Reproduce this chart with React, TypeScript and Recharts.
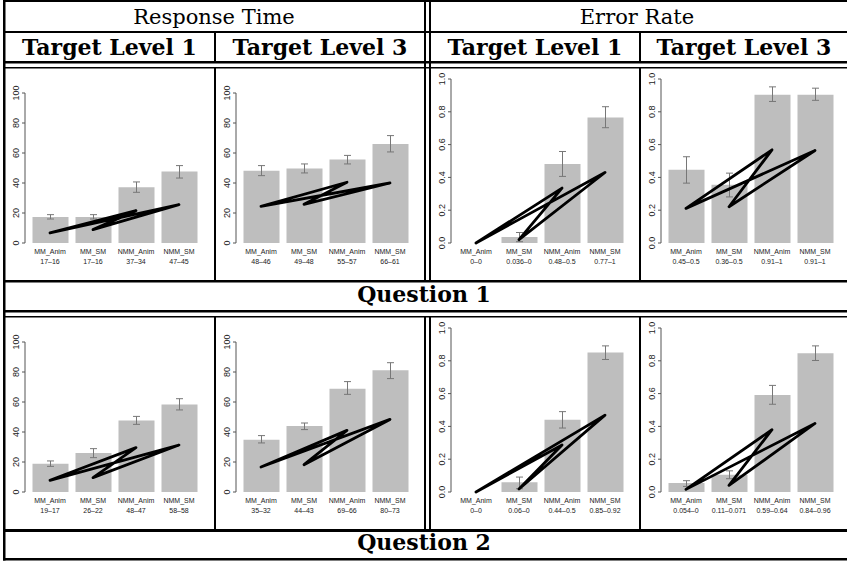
import React from 'react'
import { ComposedChart, Bar, ErrorBar, Scatter, XAxis, YAxis } from 'recharts'

const categories = ['MM_Anim', 'MM_SM', 'NMM_Anim', 'NMM_SM']
// the black line visits the bars in this order and closes on the first one
const linePath = ['MM_Anim', 'NMM_Anim', 'MM_SM', 'NMM_SM', 'MM_Anim']

const rtTicks = [0, 20, 40, 60, 80, 100]
const erTicks = [0, 0.2, 0.4, 0.6, 0.8, 1]

// Question 1 - response time, target level 1
const q1RtL1Mean = [17.3, 17.3, 37.1, 47.6]
const q1RtL1Low = [16, 16, 33.8, 43.3]
const q1RtL1High = [18.9, 18.9, 40.7, 51.6]
const q1RtL1Line = [6.7, 8.9, 21.6, 25.6]
const q1RtL1Labels = ['17–16', '17–16', '37–34', '47–45']

// Question 1 - response time, target level 3
const q1RtL3Mean = [48.2, 49.6, 55.6, 66]
const q1RtL3Low = [44.9, 46.7, 52.7, 60.7]
const q1RtL3High = [51.6, 52.7, 58.4, 71.6]
const q1RtL3Line = [24.4, 25.8, 40.5, 40]
const q1RtL3Labels = ['48–46', '49–48', '55–57', '66–61']

// Question 1 - error rate, target level 1
const q1ErL1Mean = [0, 0.036, 0.482, 0.765]
const q1ErL1Low = [0, 0.008, 0.406, 0.703]
const q1ErL1High = [0, 0.064, 0.558, 0.831]
const q1ErL1Line = [0, 0.02, 0.335, 0.43]
const q1ErL1Labels = ['0–0', '0.036–0', '0.48–0.5', '0.77–1']

// Question 1 - error rate, target level 3
const q1ErL3Mean = [0.446, 0.355, 0.904, 0.904]
const q1ErL3Low = [0.365, 0.281, 0.863, 0.87]
const q1ErL3High = [0.526, 0.426, 0.952, 0.944]
const q1ErL3Line = [0.211, 0.221, 0.568, 0.564]
const q1ErL3Labels = ['0.45–0.5', '0.36–0.5', '0.91–1', '0.91–1']

// Question 2 - response time, target level 1
const q2RtL1Mean = [18.9, 26, 47.6, 58.4]
const q2RtL1Low = [17.1, 22.9, 45.1, 54.7]
const q2RtL1High = [20.7, 28.9, 50.4, 62.2]
const q2RtL1Line = [7.8, 9.6, 29.6, 31.3]
const q2RtL1Labels = ['19–17', '26–22', '48–47', '58–58']

// Question 2 - response time, target level 3
const q2RtL3Mean = [34.9, 44, 68.9, 81.1]
const q2RtL3Low = [32.7, 41.6, 65.1, 75.6]
const q2RtL3High = [37.6, 46, 73.6, 86.2]
const q2RtL3Line = [16.7, 18.2, 41.1, 48.4]
const q2RtL3Labels = ['35–32', '44–43', '69–66', '80–73']

// Question 2 - error rate, target level 1
const q2ErL1Mean = [0, 0.059, 0.44, 0.85]
const q2ErL1Low = [0, 0.02, 0.39, 0.808]
const q2ErL1High = [0, 0.091, 0.49, 0.891]
const q2ErL1Line = [0, 0.018, 0.287, 0.469]
const q2ErL1Labels = ['0–0', '0.06–0', '0.44–0.5', '0.85–0.92']

// Question 2 - error rate, target level 3
const q2ErL3Mean = [0.055, 0.105, 0.592, 0.846]
const q2ErL3Low = [0.034, 0.081, 0.535, 0.802]
const q2ErL3High = [0.069, 0.129, 0.65, 0.891]
const q2ErL3Line = [0.016, 0.04, 0.38, 0.418]
const q2ErL3Labels = ['0.054–0', '0.11–0.071', '0.59–0.64', '0.84–0.96']

const colLeft = [5, 216, 431, 641]
const rowTop = [69, 318]

const panels = [
  { col: 0, row: 0, er: false, mean: q1RtL1Mean, low: q1RtL1Low, high: q1RtL1High, line: q1RtL1Line, labels: q1RtL1Labels },
  { col: 1, row: 0, er: false, mean: q1RtL3Mean, low: q1RtL3Low, high: q1RtL3High, line: q1RtL3Line, labels: q1RtL3Labels },
  { col: 2, row: 0, er: true, mean: q1ErL1Mean, low: q1ErL1Low, high: q1ErL1High, line: q1ErL1Line, labels: q1ErL1Labels },
  { col: 3, row: 0, er: true, mean: q1ErL3Mean, low: q1ErL3Low, high: q1ErL3High, line: q1ErL3Line, labels: q1ErL3Labels },
  { col: 0, row: 1, er: false, mean: q2RtL1Mean, low: q2RtL1Low, high: q2RtL1High, line: q2RtL1Line, labels: q2RtL1Labels },
  { col: 1, row: 1, er: false, mean: q2RtL3Mean, low: q2RtL3Low, high: q2RtL3High, line: q2RtL3Line, labels: q2RtL3Labels },
  { col: 2, row: 1, er: true, mean: q2ErL1Mean, low: q2ErL1Low, high: q2ErL1High, line: q2ErL1Line, labels: q2ErL1Labels },
  { col: 3, row: 1, er: true, mean: q2ErL3Mean, low: q2ErL3Low, high: q2ErL3High, line: q2ErL3Line, labels: q2ErL3Labels },
]

const sans = '"Liberation Sans", Arial, sans-serif'
const serif = '"DejaVu Serif", serif'

function XTick(props: any) {
  const { x, y, payload, labels } = props
  const i = categories.indexOf(payload.value)
  return (
    <g>
      <text x={x} y={y + 10.5} textAnchor="middle" fontSize={7} fontFamily={sans} fill="#222">
        {payload.value}
      </text>
      <text x={x} y={y + 20.5} textAnchor="middle" fontSize={7} fontFamily={sans} fill="#222">
        {labels[i]}
      </text>
    </g>
  )
}

function YTick(props: any) {
  const { x, y, payload, er } = props
  const txt = er ? Number(payload.value).toFixed(1) : String(payload.value)
  return (
    <text
      transform={`translate(${x - 1.5},${y}) rotate(-90)`}
      textAnchor="middle"
      fontSize={9}
      fontFamily={sans}
      fill="#222"
    >
      {txt}
    </text>
  )
}

function Panel({ p }: { p: any }) {
  const rows = categories.map((name, i) => ({
    name,
    value: p.mean[i],
    err: p.high[i] > p.low[i] ? [p.mean[i] - p.low[i], p.high[i] - p.mean[i]] : null,
  }))
  const pts = linePath.map((c) => {
    const i = categories.indexOf(c)
    return { x: i, y: p.line[i] }
  })
  const ticks = p.er ? erTicks : rtTicks
  return (
    <div style={{ position: 'absolute', left: colLeft[p.col], top: rowTop[p.row] }}>
      <ComposedChart
        width={209}
        height={211}
        data={rows}
        margin={{ top: p.er ? 10 : 24, right: 10, bottom: 0, left: 0 }}
      >
        <XAxis
          xAxisId="cat"
          dataKey="name"
          type="category"
          padding={{ left: 3.5, right: 3.5 }}
          axisLine={false}
          tickLine={false}
          tickSize={0}
          tickMargin={0}
          height={37}
          interval={0}
          tick={(t: any) => <XTick {...t} labels={p.labels} />}
        />
        <XAxis
          xAxisId="num"
          dataKey="x"
          type="number"
          domain={[-0.5, 3.5]}
          padding={{ left: 3.5, right: 3.5 }}
          allowDataOverflow
          hide
        />
        <YAxis
          domain={[0, ticks[ticks.length - 1]]}
          ticks={ticks}
          interval={0}
          width={20}
          tickSize={3}
          tickMargin={2}
          axisLine={{ stroke: '#555' }}
          tickLine={{ stroke: '#555' }}
          tick={(t: any) => <YTick {...t} er={p.er} />}
        />
        <Bar xAxisId="cat" dataKey="value" fill="#bebebe" barSize={36} isAnimationActive={false}>
          <ErrorBar dataKey="err" width={3.5} stroke="#777" strokeWidth={1} />
        </Bar>
        <Scatter
          xAxisId="num"
          data={pts}
          dataKey="y"
          line={{ stroke: '#000', strokeWidth: 2.8, strokeLinejoin: 'round', strokeLinecap: 'round' }}
          shape={() => <g />}
          isAnimationActive={false}
        />
      </ComposedChart>
    </div>
  )
}

const hLines = [
  [3, 0, 844, 2],
  [3, 31, 844, 2],
  [3, 61, 844, 2.5],
  [3, 67, 844, 1.5],
  [3, 280, 844, 2.5],
  [3, 310, 844, 2.5],
  [3, 316, 844, 1.5],
  [3, 529, 844, 3],
  [3, 558, 844, 2.5],
]

const vLines = [
  [3, 0, 2.5, 560.5],
  [424, 0, 2, 280],
  [429, 0, 2, 280],
  [424, 316, 2, 213],
  [429, 316, 2, 213],
  [214, 31, 2, 30],
  [214, 67, 2, 213],
  [214, 316, 2, 213],
  [639, 31, 2, 30],
  [639, 67, 2, 213],
  [639, 316, 2, 213],
]

export default function App() {
  return (
    <div
      style={{
        position: 'absolute',
        left: 0,
        top: 0,
        width: 847,
        height: 562,
        background: '#fff',
        overflow: 'hidden',
      }}
    >
      {panels.map((p, i) => (
        <Panel key={i} p={p} />
      ))}
      <svg
        width={847}
        height={562}
        style={{ position: 'absolute', left: 0, top: 0, pointerEvents: 'none' }}
      >
        {hLines.map(([x, y, w, h], i) => (
          <rect key={'h' + i} x={x} y={y} width={w} height={h} fill="#000" />
        ))}
        {vLines.map(([x, y, w, h], i) => (
          <rect key={'v' + i} x={x} y={y} width={w} height={h} fill="#000" />
        ))}
        <g fontFamily={serif} fill="#000" textAnchor="middle">
          <text x={214} y={24} fontSize={21}>Response Time</text>
          <text x={637} y={24} fontSize={21}>Error Rate</text>
          <text x={109.5} y={55} fontSize={22} fontWeight="bold">Target Level 1</text>
          <text x={320} y={55} fontSize={22} fontWeight="bold">Target Level 3</text>
          <text x={535} y={55} fontSize={22} fontWeight="bold">Target Level 1</text>
          <text x={744} y={55} fontSize={22} fontWeight="bold">Target Level 3</text>
          <text x={424} y={302} fontSize={22} fontWeight="bold">Question 1</text>
          <text x={424} y={550} fontSize={22} fontWeight="bold">Question 2</text>
        </g>
      </svg>
    </div>
  )
}
